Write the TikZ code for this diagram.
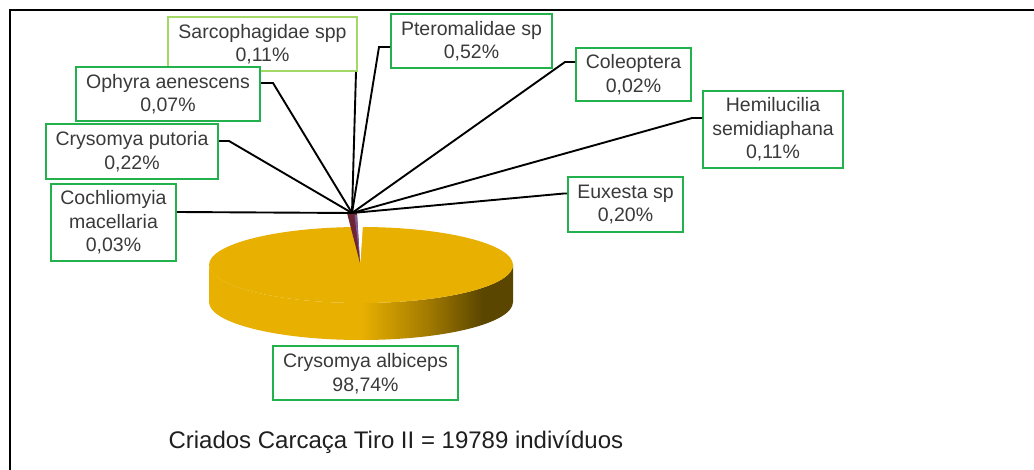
\documentclass[tikz,border=0pt]{standalone}
\usepackage{fontspec}
\setmainfont{Liberation Sans}
\usepackage{xcolor}
\usetikzlibrary{calc}

\definecolor{boxgreen}{HTML}{22B14C}
\definecolor{boxlime}{HTML}{A2D865}
\definecolor{pieGold}{HTML}{E8B000}
\definecolor{pieMid}{HTML}{A27A00}
\definecolor{pieDark}{HTML}{5B4600}
\definecolor{txtgray}{HTML}{3A3A3A}
\definecolor{sliceRed}{HTML}{6E2632}
\definecolor{slicePurple}{HTML}{7B5C9E}

\pgfdeclarehorizontalshading{pieside}{100bp}{color(0bp)=(pieGold); color(25bp)=(pieGold); color(50bp)=(pieGold); color(61bp)=(pieMid); color(70bp)=(pieDark); color(75bp)=(pieDark); color(100bp)=(pieDark)}

\tikzset{
	lbl/.style = {draw = boxgreen, line width = 2pt, fill = white, inner sep = 0pt,
		align = center, text = txtgray, font = \fontsize{19.5}{23.5}\selectfont},
	leader/.style = {line width = 1.9pt, black}
}

\begin{document}
\begin{tikzpicture}[x = 1pt, y = -1pt]
			\def\pieX{361};
			\def\pieY{265};
			\def\pieRX{152};
			\def\pieRY{38};
			\def\pieH{37};

			\useasboundingbox (0,0) rectangle (1034,470);
			\fill[white] (0,0) rectangle (1034,470);

			\begin{scope}[line width = 2.5pt]
				\draw (1034,10) -- (10,10) -- (10,470);
			\end{scope}

			\begin{scope}
				\shade[shading = pieside] (\pieX-\pieRX,\pieY) -- (\pieX-\pieRX,\pieY+\pieH)
					arc[start angle = 180, end angle = 0, x radius = \pieRX, y radius = \pieRY]
					-- (\pieX+\pieRX,\pieY)
					arc[start angle = 0, end angle = 180, x radius = \pieRX, y radius = \pieRY] -- cycle;
				\fill[pieGold] (\pieX,\pieY) ellipse [x radius = \pieRX, y radius = \pieRY];
				\fill[white] (355,224) -- (363,224) -- (360.5,262) -- cycle;
				\fill[sliceRed] (347,213) -- (357,213) -- (360,263) -- cycle;
				\fill[slicePurple] (354.5,215) -- (357,215) -- (359.8,260) -- cycle;
			\end{scope}

			\coordinate (hub) at (352,213);

			\node[lbl, draw = boxlime, minimum width = 189pt, minimum height = 54pt] (sarco) at (262.5,44) {Sarcophagidae spp\\0,11\%};
			\node[lbl, minimum width = 161pt, minimum height = 54pt] (ptero) at (471.5,41) {Pteromalidae sp\\0,52\%};
			\node[lbl, minimum width = 115pt, minimum height = 53pt] (coleo) at (633.5,74.5) {Coleoptera\\0,02\%};
			\node[lbl, minimum width = 140pt, minimum height = 77pt] (hemi) at (773,129.5) {Hemilucilia\\semidiaphana\\0,11\%};
			\node[lbl, minimum width = 115pt, minimum height = 55pt] (euxesta) at (625.5,204.5) {Euxesta sp\\0,20\%};
			\node[lbl, minimum width = 184pt, minimum height = 54pt] (ophyra) at (168,94) {Ophyra aenescens\\0,07\%};
			\node[lbl, minimum width = 172pt, minimum height = 55pt] (putoria) at (132,151.5) {Crysomya putoria\\0,22\%};
			\node[lbl, minimum width = 125pt, minimum height = 77pt] (cochlio) at (113.5,222.5) {Cochliomyia\\macellaria\\0,03\%};
			\node[lbl, minimum width = 185pt, minimum height = 54pt] (albiceps) at (365.5,373.5) {Crysomya albiceps\\98,74\%};

			\begin{scope}[leader]
				\draw ([xshift = -2pt]sarco.south east) -- (hub);
				\draw ([yshift = -6pt]ptero.west) -- ++(-11,0) -- (hub);
				\draw ([yshift = 12.5pt]coleo.west) -- ++(-10,0) -- (hub);
				\draw ([yshift = 11.5pt]hemi.west) -- ++(-10,0) -- (hub);
				\draw ([yshift = 11pt]euxesta.west) -- ++(-3,0) -- (hub);
				\draw ([yshift = 11pt]ophyra.east) -- ++(12,0) -- (hub);
				\draw ([yshift = 10.5pt]putoria.east) -- ++(10,0) -- (hub);
				\draw ([yshift = 10.5pt]cochlio.east) -- (hub);
			\end{scope}

			\node[anchor = base west, text = black!88, font = \fontsize{24}{28}\selectfont] (title) at (165,448) {Criados Carcaça Tiro II = 19789 indivíduos};
		\end{tikzpicture}
\end{document}
